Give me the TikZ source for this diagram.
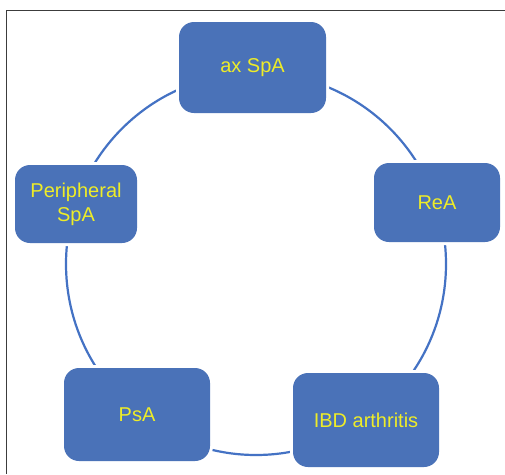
\documentclass[tikz,border=0pt]{standalone}
\usepackage{fontspec}
\setmainfont{Liberation Sans}
\definecolor{boxblue}{RGB}{74,114,184}
\definecolor{ringblue}{RGB}{68,114,196}
\definecolor{txtyellow}{RGB}{238,236,40}
\definecolor{framegray}{RGB}{60,60,60}
\begin{document}
\begin{tikzpicture}[x=1pt,y=-1pt,
  box/.style={rectangle, rounded corners=15pt, fill=boxblue, draw=none,
    preaction={draw=white, line width=6pt},
    text=txtyellow, font=\fontsize{20}{24}\selectfont, align=center,
    inner sep=0pt},
  ring/.style={draw=ringblue, line width=2.2pt}]
\useasboundingbox (0,0) rectangle (505,474);
\fill[white] (0,0) rectangle (505,474);
\draw[framegray, line width=1pt] (505,10.5) -- (6.5,10.5) -- (6.5,474);
\coordinate (c) at (256,264);
\draw[ring] (c) ellipse [x radius=190, y radius=191];
\node[box, minimum width=147pt, minimum height=91pt] (ax) at (252.5,67.5) {ax SpA};
\node[box, minimum width=126pt, minimum height=79pt] (rea) at (437,202.5) {ReA};
\node[box, minimum width=122pt, minimum height=78pt] (per) at (76,204) {Peripheral\\SpA};
\node[box, minimum width=146pt, minimum height=93pt] (psa) at (137,414.5) {PsA};
\node[box, minimum width=146pt, minimum height=94pt] (ibd) at (366,420) {IBD arthritis};
\end{tikzpicture}
\end{document}
